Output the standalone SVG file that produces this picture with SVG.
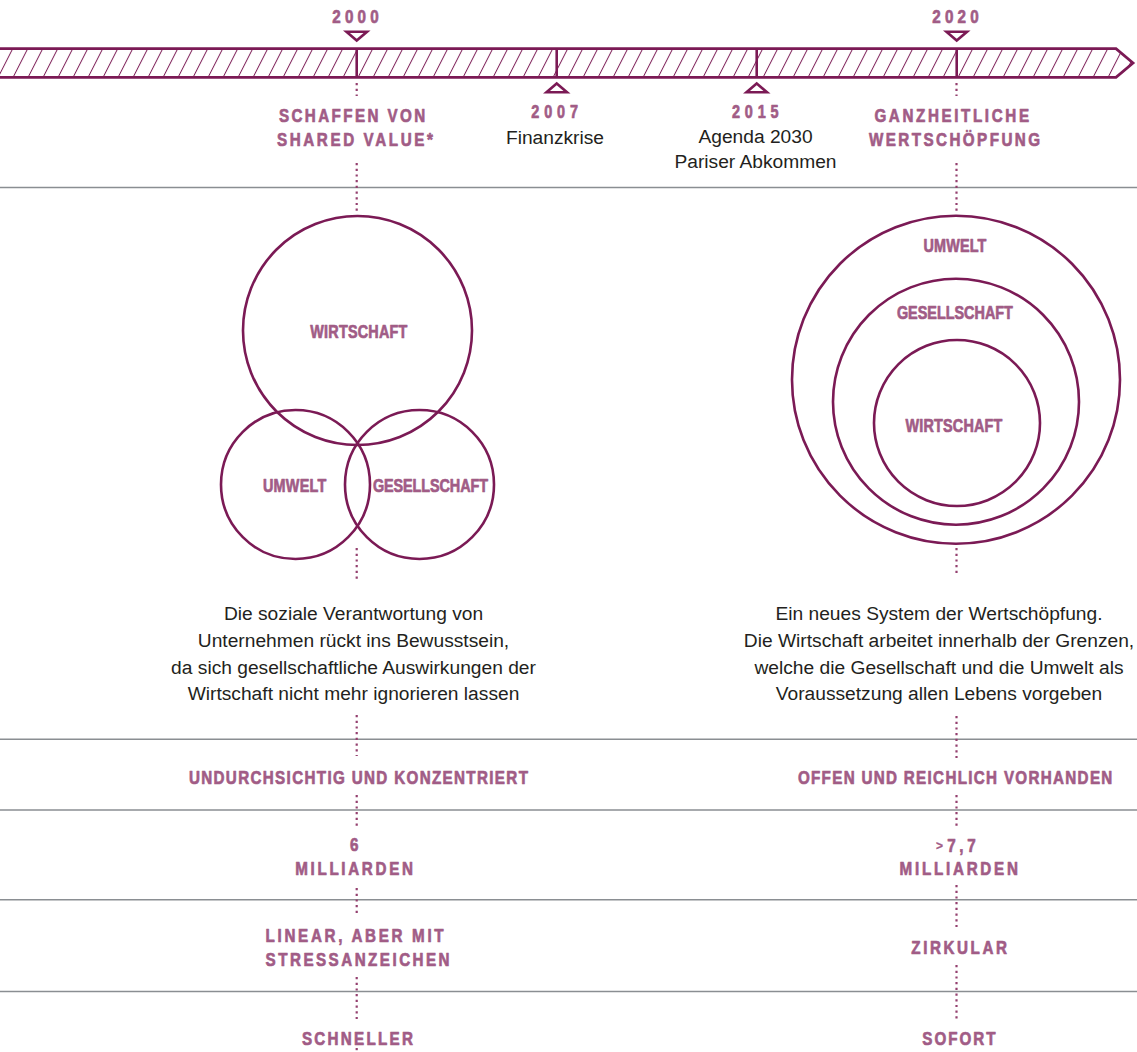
<svg xmlns="http://www.w3.org/2000/svg" width="1137" height="1052" viewBox="0 0 1137 1052">
<defs>
<style>
.lb{font-family:"Liberation Sans",Arial,sans-serif;font-weight:700;font-size:19px;fill:#a15c86;stroke:#a15c86;stroke-width:0.7;stroke-linejoin:round}
.lbs{font-family:"Liberation Sans",Arial,sans-serif;font-weight:700;font-size:18px;fill:#a15c86;stroke:#a15c86;stroke-width:0.7;stroke-linejoin:round}
.tx{font-family:"Liberation Sans",Arial,sans-serif;font-size:19.2px;fill:#231f20;text-anchor:middle}
.ring{fill:none;stroke:#7b1a55;stroke-width:2.6}
.rule{stroke:#8a8e92;stroke-width:1.6}
.dot{stroke:#94406f;stroke-width:2.2;stroke-dasharray:2.2 3.5;fill:none}
.tick{stroke:#7b1a55;stroke-width:2.6}
.tri{fill:#fff;stroke:#7b1a55;stroke-width:2.6;stroke-linejoin:miter}
</style>
<pattern id="hatch" patternUnits="userSpaceOnUse" width="15" height="10" patternTransform="skewX(-27)">
<line x1="7.5" y1="-1" x2="7.5" y2="11" stroke="#7b1a55" stroke-width="1.1"/>
</pattern>
</defs>
<rect width="1137" height="1052" fill="#fff"/>

<g id="rules">
<line class="rule" x1="0" y1="187.5" x2="1137" y2="187.5"/>
<line class="rule" x1="0" y1="739.3" x2="1137" y2="739.3"/>
<line class="rule" x1="0" y1="810" x2="1137" y2="810"/>
<line class="rule" x1="0" y1="899.7" x2="1137" y2="899.7"/>
<line class="rule" x1="0" y1="991.5" x2="1137" y2="991.5"/>
</g>

<g id="timeline">
<path d="M -5 48.7 H 1116 L 1133 63 L 1116 77.3 H -5 Z" fill="url(#hatch)" stroke="#7b1a55" stroke-width="2.8"/>
<line class="tick" x1="356.7" y1="48.7" x2="356.7" y2="77.3"/>
<line class="tick" x1="556.7" y1="48.7" x2="556.7" y2="77.3"/>
<line class="tick" x1="756.7" y1="48.7" x2="756.7" y2="77.3"/>
<line class="tick" x1="956.7" y1="48.7" x2="956.7" y2="77.3"/>
</g>

<g id="connectors">
<line class="dot" x1="356.7" y1="83" x2="356.7" y2="96"/>
<line class="dot" x1="356.7" y1="163" x2="356.7" y2="214"/>
<line class="dot" x1="356.7" y1="548" x2="356.7" y2="580"/>
<line class="dot" x1="356.7" y1="715" x2="356.7" y2="756"/>
<line class="dot" x1="356.7" y1="795" x2="356.7" y2="828"/>
<line class="dot" x1="356.7" y1="888" x2="356.7" y2="916"/>
<line class="dot" x1="356.7" y1="977" x2="356.7" y2="1019"/>
<line class="dot" x1="356.7" y1="1048" x2="356.7" y2="1052"/>
<line class="dot" x1="956.5" y1="83" x2="956.5" y2="96"/>
<line class="dot" x1="956.5" y1="163" x2="956.5" y2="214"/>
<line class="dot" x1="956.5" y1="548" x2="956.5" y2="574"/>
<line class="dot" x1="956.5" y1="716" x2="956.5" y2="758"/>
<line class="dot" x1="956.5" y1="795" x2="956.5" y2="828"/>
<line class="dot" x1="956.5" y1="885" x2="956.5" y2="927"/>
<line class="dot" x1="956.5" y1="965" x2="956.5" y2="1020"/>
</g>

<g id="y2000">
<text class="lb" transform="translate(332.3,23.3) scale(0.8,1)" textLength="57.9" lengthAdjust="spacing">2000</text>
<polygon class="tri" points="346.5,31.8 367,31.8 356.7,40.5"/>
</g>
<g id="y2007">
<polygon class="tri" points="546.5,92.3 567,92.3 556.7,83.5"/>
<text class="lbs" transform="translate(531.3,118.3) scale(0.8,1)" textLength="58.3" lengthAdjust="spacing">2007</text>
<text class="tx" x="555" y="143.5">Finanzkrise</text>
</g>
<g id="y2015">
<polygon class="tri" points="746.5,92.3 767,92.3 756.7,83.5"/>
<text class="lbs" transform="translate(731.9,118.3) scale(0.8,1)" textLength="58.4" lengthAdjust="spacing">2015</text>
<text class="tx" x="755.5" y="143.3">Agenda 2030</text>
<text class="tx" x="755.5" y="168">Pariser Abkommen</text>
</g>
<g id="y2020">
<text class="lb" transform="translate(932.3,23.3) scale(0.8,1)" textLength="57.9" lengthAdjust="spacing">2020</text>
<polygon class="tri" points="946.5,31.8 967,31.8 956.7,40.5"/>
</g>

<g id="title-left">
<text class="lb" transform="translate(278.9,122.3) scale(0.8,1)" textLength="183" lengthAdjust="spacing">SCHAFFEN VON</text>
<text class="lb" transform="translate(276.9,145.7) scale(0.8,1)" textLength="195" lengthAdjust="spacing">SHARED VALUE*</text>
</g>
<g id="title-right">
<text class="lb" transform="translate(874.4,122.3) scale(0.8,1)" textLength="193.3" lengthAdjust="spacing">GANZHEITLICHE</text>
<text class="lb" transform="translate(868.9,145.7) scale(0.8,1)" textLength="214" lengthAdjust="spacing">WERTSCHÖPFUNG</text>
</g>

<g id="venn-wirtschaft">
<circle class="ring" cx="357.5" cy="330.5" r="114.5"/>
<text class="lbs" transform="translate(310.3,338.3) scale(0.8,1)" textLength="121.3" lengthAdjust="spacing">WIRTSCHAFT</text>
</g>
<g id="venn-umwelt">
<circle class="ring" cx="295.5" cy="484.5" r="74.5"/>
<text class="lbs" transform="translate(262.9,491.7) scale(0.8,1)" textLength="79.3" lengthAdjust="spacing">UMWELT</text>
</g>
<g id="venn-gesellschaft">
<circle class="ring" cx="419.5" cy="484.5" r="74.5"/>
<text class="lbs" transform="translate(372.9,491.7) scale(0.8,1)" textLength="143.8" lengthAdjust="spacing">GESELLSCHAFT</text>
</g>

<g id="nest-umwelt">
<circle class="ring" cx="956" cy="379.7" r="164"/>
<text class="lbs" transform="translate(923.6,252.3) scale(0.8,1)" textLength="78.4" lengthAdjust="spacing">UMWELT</text>
</g>
<g id="nest-gesellschaft">
<circle class="ring" cx="956" cy="401.7" r="123"/>
<text class="lbs" transform="translate(896.9,319) scale(0.8,1)" textLength="145" lengthAdjust="spacing">GESELLSCHAFT</text>
</g>
<g id="nest-wirtschaft">
<circle class="ring" cx="957" cy="423" r="83"/>
<text class="lbs" transform="translate(905.6,432.3) scale(0.8,1)" textLength="120.9" lengthAdjust="spacing">WIRTSCHAFT</text>
</g>

<g id="desc-left">
<text class="tx" x="353.5" y="620">Die soziale Verantwortung von</text>
<text class="tx" x="353.5" y="646.7">Unternehmen rückt ins Bewusstsein,</text>
<text class="tx" x="353.5" y="673.6">da sich gesellschaftliche Auswirkungen der</text>
<text class="tx" x="353.5" y="700.4">Wirtschaft nicht mehr ignorieren lassen</text>
</g>
<g id="desc-right">
<text class="tx" x="939" y="620">Ein neues System der Wertschöpfung.</text>
<text class="tx" x="939" y="646.7">Die Wirtschaft arbeitet innerhalb der Grenzen,</text>
<text class="tx" x="939" y="673.6">welche die Gesellschaft und die Umwelt als</text>
<text class="tx" x="939" y="700.4">Voraussetzung allen Lebens vorgeben</text>
</g>

<g id="row1-left">
<text class="lb" transform="translate(188.9,784) scale(0.8,1)" textLength="423.8" lengthAdjust="spacing">UNDURCHSICHTIG UND KONZENTRIERT</text>
</g>
<g id="row1-right">
<text class="lb" transform="translate(797.9,784) scale(0.8,1)" textLength="393" lengthAdjust="spacing">OFFEN UND REICHLICH VORHANDEN</text>
</g>

<g id="row2-left">
<text class="lb" transform="translate(354.3,850.7) scale(0.8,1)" text-anchor="middle">6</text>
<text class="lb" transform="translate(295.3,875) scale(0.8,1)" textLength="147" lengthAdjust="spacing">MILLIARDEN</text>
</g>
<g id="row2-right">
<text class="lb" x="936" y="849.5" style="font-size:12px;stroke-width:0.3">&gt;</text>
<text class="lb" transform="translate(947.3,851.7) scale(0.8,1)" textLength="35.4" lengthAdjust="spacing">7,7</text>
<text class="lb" transform="translate(899.6,875) scale(0.8,1)" textLength="147.9" lengthAdjust="spacing">MILLIARDEN</text>
</g>

<g id="row3-left">
<text class="lb" transform="translate(265.6,941.7) scale(0.8,1)" textLength="222.5" lengthAdjust="spacing">LINEAR, ABER MIT</text>
<text class="lb" transform="translate(265.6,965.7) scale(0.8,1)" textLength="230" lengthAdjust="spacing">STRESSANZEICHEN</text>
</g>
<g id="row3-right">
<text class="lb" transform="translate(911.3,954) scale(0.8,1)" textLength="119.5" lengthAdjust="spacing">ZIRKULAR</text>
</g>

<g id="row4-left">
<text class="lb" transform="translate(301.9,1045) scale(0.8,1)" textLength="138.8" lengthAdjust="spacing">SCHNELLER</text>
</g>
<g id="row4-right">
<text class="lb" transform="translate(922.3,1045) scale(0.8,1)" textLength="91.6" lengthAdjust="spacing">SOFORT</text>
</g>
</svg>
